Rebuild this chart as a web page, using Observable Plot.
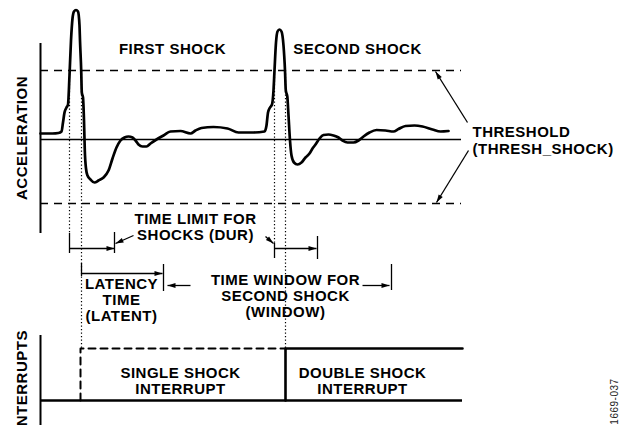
<!DOCTYPE html>
<html>
<head>
<meta charset="utf-8">
<script src="https://cdn.jsdelivr.net/npm/d3@7"></script>
<script src="https://cdn.jsdelivr.net/npm/@observablehq/plot@0.6"></script>
<style>
  html, body { margin: 0; padding: 0; background: #fff; }
</style>
</head>
<body>
<div id="chart"></div>
<script>
// ---- acceleration trace (time units from the axis, level units from the zero line)
const accelTime = [0, 12, 18, 21, 22.5, 24, 26, 27.5, 29, 30.5, 32, 33.5, 35.5, 37.5, 39, 39.5, 40.7, 41.3, 42.5, 43.5, 44.3, 45.5, 47, 50, 54, 58, 63, 68, 72, 76, 80, 84, 88, 92, 95, 98, 102, 106, 110, 116, 123, 130, 140, 150, 155, 161, 173, 187, 198, 213, 224, 226, 227.5, 229.5, 231.5, 233, 234, 235.5, 237, 239, 241, 243, 244.5, 245.3, 246.8, 248, 249.5, 251, 253.5, 257, 261, 265, 269, 272, 275, 279, 283, 288, 293, 298, 302, 307, 313, 318, 323, 329, 336, 345, 353, 358, 365, 374, 382, 392, 400, 408];
const accelLevel = [6, 6, 6.5, 8, 17, 27, 32, 35, 64, 99, 121, 128, 129.5, 128, 114, 99, 69, 47, 42, 19, -11, -29, -36, -40, -43, -41, -38, -31, -19, -8, -1, 2, 3, 2, -1, -5, -7, -7, -4, 0, 4, 8, 8.5, 6, 9, 11.5, 12.5, 11, 7, 7, 8, 14, 27, 32, 35, 49, 69, 97, 108, 110, 108, 94, 69, 49, 43, 24, -1, -16, -23, -25, -23, -18, -14, -9, -5, 1, 4.5, 5, 4, 2, -1, -3, -3, -1, 3, 7, 9.5, 9, 8, 10.5, 13.5, 14, 13, 10, 8, 8.5];

// ---- levels and times of the diagram
const zeroLevel = 0;
const thresholdLevels = [69, -64];
const timeSpan = [0, 421];
const accelAxisSpan = [96, -94];
const interruptAxisSpan = [-196, -286];
const interruptLow = -261;
const interruptHigh = -209;
const singleShockTime = 40;
const doubleShockTime = 245;

// dotted markers where the shocks cross the threshold: [time, top, bottom]
const markerTime = [29, 41, 234, 245];
const markerBottom = [-94, -209, -104, -209];

// bracket ticks: [time, top, bottom]
const tickTime = [29, 74, 234, 277, 41, 123, 351];
const tickTop = [-94, -93, -104, -97, -124, -125, -125];
const tickBottom = [-114, -114, -119, -120, -137, -152, -151];

// arrows: from (t1,a1) to (t2,a2)
const arrowT1 = [427, 428, 93, 225, 29, 234, 41, 150, 322];
const arrowA1 = [17, -11, -96, -97, -109, -109, -134, -146, -146];
const arrowT2 = [395, 396, 75, 233, 74, 276, 122, 127, 349];
const arrowA2 = [68, -63, -104, -104, -109, -109, -134, -146, -146];

// labels
const labelText = [
  "FIRST SHOCK",
  "SECOND SHOCK",
  "TIME LIMIT FOR\nSHOCKS (DUR)",
  "LATENCY\nTIME\n(LATENT)",
  "TIME WINDOW FOR\nSECOND SHOCK\n(WINDOW)",
  "SINGLE SHOCK\nINTERRUPT",
  "DOUBLE SHOCK\nINTERRUPT"
];
const labelTime = [132, 317, 155, 81, 245, 140, 322];
const labelLevel = [85.5, 85.5, -100, -181, -177, -254, -254];

const thresholdLabel = "THRESHOLD\n(THRESH_SHOCK)";
const axisLabels = ["ACCELERATION", "INTERRUPTS"];
const axisLabelLevel = [1.5, -241];
const figureId = "1669-037";

// ---- build tables
const accel = accelTime.map((t, i) => ({t, a: accelLevel[i]}));
const markers = markerTime.map((t, i) => ({t, top: thresholdLevels[0], bottom: markerBottom[i]}));
const ticks = tickTime.map((t, i) => ({t, top: tickTop[i], bottom: tickBottom[i]}));
const arrows = arrowT1.map((t1, i) => ({t1, a1: arrowA1[i], t2: arrowT2[i], a2: arrowA2[i]}));
const labels = labelText.map((text, i) => ({text, t: labelTime[i], a: labelLevel[i]}));
const axisLines = [
  {t: 0, top: accelAxisSpan[0], bottom: accelAxisSpan[1]},
  {t: 0, top: interruptAxisSpan[0], bottom: interruptAxisSpan[1]}
];
const singleShock = [
  {t: singleShockTime, a: interruptLow},
  {t: singleShockTime, a: interruptHigh},
  {t: doubleShockTime, a: interruptHigh}
];
const doubleShock = [
  {t: doubleShockTime, a: interruptLow},
  {t: doubleShockTime, a: interruptHigh},
  {t: timeSpan[1] + 1, a: interruptHigh}
];

// narrow filled arrowhead, tip at the origin, pointing along +x
const arrowHead = {
  draw(ctx, size) {
    const l = Math.sqrt(size / Math.PI) * 2;
    ctx.moveTo(0, 0);
    ctx.lineTo(-l, -l * 0.3);
    ctx.lineTo(-l, l * 0.3);
    ctx.closePath();
  }
};
const headAngle = d => Math.atan2(-(d.a2 - d.a1), d.t2 - d.t1) * 180 / Math.PI;

const font = "Liberation Sans, Arial, Helvetica, sans-serif";
const textOpts = {fontFamily: font, fontSize: 15, fontWeight: "bold", fill: "#000", lineAnchor: "bottom", lineHeight: 16 / 15};

const chart = Plot.plot({
  width: 626,
  height: 425,
  margin: 0,
  style: {background: "#fff", letterSpacing: "0.5px"},
  x: {domain: [-40, 586], range: [0, 626], axis: null},
  y: {domain: [-286, 139], range: [425, 0], axis: null},
  marks: [
    // thresholds
    Plot.ruleY(thresholdLevels, {x1: timeSpan[0], x2: timeSpan[1], stroke: "#000", strokeWidth: 1.3, strokeDasharray: "8,6"}),
    // zero line
    Plot.ruleY([zeroLevel], {x1: timeSpan[0], x2: timeSpan[1], stroke: "#000", strokeWidth: 1.6}),
    // dotted markers
    Plot.ruleX(markers, {x: "t", y1: "top", y2: "bottom", stroke: "#000", strokeWidth: 1.2, strokeDasharray: "1.3,2.2"}),
    // acceleration trace
    Plot.line(accel, {x: "t", y: "a", curve: "monotone-x", stroke: "#000", strokeWidth: 2.7, strokeLinejoin: "round"}),
    // axes
    Plot.ruleX(axisLines, {x: "t", y1: "top", y2: "bottom", stroke: "#000", strokeWidth: 2}),
    // bracket ticks
    Plot.ruleX(ticks, {x: "t", y1: "top", y2: "bottom", stroke: "#000", strokeWidth: 1.3}),
    // arrows
    Plot.link(arrows, {x1: "t1", y1: "a1", x2: "t2", y2: "a2", stroke: "#000", strokeWidth: 1.3}),
    Plot.dot(arrows, {x: "t2", y: "a2", symbol: arrowHead, r: 4, rotate: headAngle, fill: "#000", stroke: null}),
    // interrupts
    Plot.ruleY([interruptLow], {x1: timeSpan[0], x2: timeSpan[1] + 1, stroke: "#000", strokeWidth: 2.6}),
    Plot.line(singleShock, {x: "t", y: "a", stroke: "#000", strokeWidth: 2, strokeDasharray: "7,5"}),
    Plot.line(doubleShock, {x: "t", y: "a", stroke: "#000", strokeWidth: 2.6}),
    // labels
    Plot.text(labels, {x: "t", y: "a", text: "text", ...textOpts}),
    Plot.text([thresholdLabel], {x: 432, y: -14, text: d => d, ...textOpts, textAnchor: "start", lineHeight: 16.5 / 15}),
    Plot.text(axisLabels, {x: -14, y: (d, i) => axisLabelLevel[i], text: d => d, ...textOpts, rotate: -90}),
    Plot.text([figureId], {x: 577, y: -262, text: d => d, fontFamily: font, fontSize: 10, fill: "#222", lineAnchor: "bottom", rotate: -90})
  ]
});
document.getElementById("chart").appendChild(chart);
</script>
</body>
</html>
